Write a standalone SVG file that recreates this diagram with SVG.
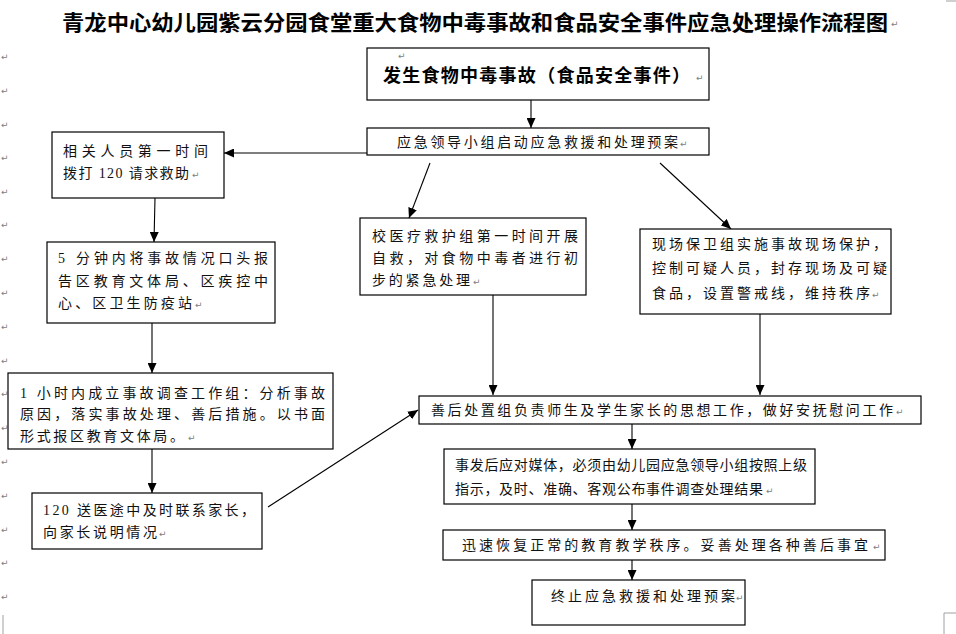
<svg xmlns="http://www.w3.org/2000/svg" width="956" height="634" viewBox="0 0 956 634">
<style>
.bx{fill:#fff;stroke:#000;stroke-width:1.2}
.t{font-family:"Liberation Serif","Noto Sans CJK SC",serif;font-size:14px;fill:#111}
.ttl{font-family:"Noto Sans CJK SC",sans-serif;font-size:21px;font-weight:bold;fill:#000}
.big{font-family:"Liberation Serif","Noto Sans CJK SC",serif;font-size:18px;font-weight:bold;fill:#000}
.pm{font-family:"DejaVu Sans",sans-serif;font-size:9px;fill:#808080}
.cn{stroke:#000;stroke-width:1.1;fill:none;marker-end:url(#ah)}
.cm{stroke:#a0a0a0;stroke-width:1;fill:none}
</style>
<defs>
<marker id="ah" markerWidth="10" markerHeight="9" refX="10" refY="4.5" orient="auto" markerUnits="userSpaceOnUse">
<path d="M0,0 L10,4.5 L0,9 Z" fill="#000"/>
</marker>
</defs>
<rect width="956" height="634" fill="#fff"/>
<g id="marks">
<path class="cm" d="M946,1 H956 M944,613 H956 M944,613 V634 M3,615 V634"/>
<text class="pm" x="1" y="60">↵</text><text class="pm" x="1" y="94">↵</text><text class="pm" x="1" y="128">↵</text>
<text class="pm" x="1" y="161">↵</text><text class="pm" x="1" y="195">↵</text><text class="pm" x="1" y="228">↵</text>
<text class="pm" x="1" y="262">↵</text><text class="pm" x="1" y="296">↵</text><text class="pm" x="1" y="330">↵</text>
<text class="pm" x="1" y="364">↵</text><text class="pm" x="1" y="397">↵</text><text class="pm" x="1" y="431">↵</text>
<text class="pm" x="1" y="465">↵</text><text class="pm" x="1" y="499">↵</text><text class="pm" x="1" y="533">↵</text>
<text class="pm" x="1" y="566">↵</text><text class="pm" x="1" y="600">↵</text>
</g>
<g id="title">
<text class="ttl" x="62" y="30" textLength="826" lengthAdjust="spacingAndGlyphs">青龙中心幼儿园紫云分园食堂重大食物中毒事故和食品安全事件应急处理操作流程图</text>
<text class="pm" x="891" y="27">↵</text>
</g>
<g id="connectors">
<line class="cn" x1="531" y1="100" x2="531" y2="128"/>
<line class="cn" x1="367" y1="153" x2="224" y2="153"/>
<line class="cn" x1="430" y1="163" x2="409" y2="218"/>
<line class="cn" x1="660" y1="163" x2="731" y2="229"/>
<line class="cn" x1="155" y1="198" x2="154" y2="242"/>
<line class="cn" x1="152" y1="323" x2="152" y2="373"/>
<line class="cn" x1="152" y1="449" x2="152" y2="493"/>
<line class="cn" x1="268" y1="507" x2="418" y2="410"/>
<line class="cn" x1="493" y1="295" x2="493" y2="395"/>
<line class="cn" x1="760" y1="314" x2="760" y2="395"/>
<line class="cn" x1="632" y1="424" x2="632" y2="449"/>
<line class="cn" x1="632" y1="504" x2="632" y2="530"/>
<line class="cn" x1="632" y1="560" x2="632" y2="580"/>
</g>
<g id="nodeA">
<rect class="bx" x="367" y="48" width="342" height="52"/>
<text class="pm" x="398" y="59">↵</text>
<text class="big" x="383" y="82" textLength="307" lengthAdjust="spacing">发生食物中毒事故（食品安全事件）</text>
<text class="pm" x="696" y="81">↵</text>
</g>
<g id="nodeB">
<rect class="bx" x="367" y="128" width="342" height="27"/>
<text class="t" x="397" y="147" textLength="281" lengthAdjust="spacing">应急领导小组启动应急救援和处理预案</text>
<text class="pm" x="680" y="147">↵</text>
</g>
<g id="nodeC">
<rect class="bx" x="52" y="132" width="172" height="66"/>
<text class="t" x="63" y="156" textLength="145" lengthAdjust="spacing">相关人员第一时间</text>
<text class="t" x="63" y="178" textLength="126" lengthAdjust="spacing">拨打 120 请求救助</text>
<text class="pm" x="192" y="178">↵</text>
</g>
<g id="nodeD">
<rect class="bx" x="47" y="242" width="228" height="81"/>
<text class="t" x="58" y="263" textLength="210" lengthAdjust="spacing">5 分钟内将事故情况口头报</text>
<text class="t" x="58" y="286" textLength="210" lengthAdjust="spacing">告区教育文体局、区疾控中</text>
<text class="t" x="58" y="308" textLength="134" lengthAdjust="spacing">心、区卫生防疫站</text>
<text class="pm" x="195" y="308">↵</text>
</g>
<g id="nodeE">
<rect class="bx" x="8" y="373" width="325" height="76"/>
<text class="t" x="20" y="398" textLength="305" lengthAdjust="spacing">1 小时内成立事故调查工作组：分析事故</text>
<text class="t" x="20" y="419" textLength="305" lengthAdjust="spacing">原因，落实事故处理、善后措施。以书面</text>
<text class="t" x="20" y="441" textLength="164" lengthAdjust="spacing">形式报区教育文体局。</text>
<text class="pm" x="188" y="441">↵</text>
</g>
<g id="nodeF">
<rect class="bx" x="32" y="493" width="230" height="56"/>
<text class="t" x="43" y="515" textLength="212" lengthAdjust="spacing">120 送医途中及时联系家长，</text>
<text class="t" x="43" y="537" textLength="114" lengthAdjust="spacing">向家长说明情况</text>
<text class="pm" x="159" y="537">↵</text>
</g>
<g id="nodeG">
<rect class="bx" x="360" y="218" width="226" height="77"/>
<text class="t" x="372" y="241" textLength="206" lengthAdjust="spacing">校医疗救护组第一时间开展</text>
<text class="t" x="372" y="263" textLength="206" lengthAdjust="spacing">自救，对食物中毒者进行初</text>
<text class="t" x="372" y="285" textLength="98" lengthAdjust="spacing">步的紧急处理</text>
<text class="pm" x="473" y="285">↵</text>
</g>
<g id="nodeH">
<rect class="bx" x="640" y="229" width="251" height="85"/>
<text class="t" x="652" y="249" textLength="235" lengthAdjust="spacing">现场保卫组实施事故现场保护，</text>
<text class="t" x="652" y="273" textLength="235" lengthAdjust="spacing">控制可疑人员，封存现场及可疑</text>
<text class="t" x="652" y="298" textLength="218" lengthAdjust="spacing">食品，设置警戒线，维持秩序</text>
<text class="pm" x="872" y="298">↵</text>
</g>
<g id="nodeI">
<rect class="bx" x="419" y="396" width="502" height="28"/>
<text class="t" x="431" y="415" textLength="462" lengthAdjust="spacing">善后处置组负责师生及学生家长的思想工作，做好安抚慰问工作</text>
<text class="pm" x="896" y="415">↵</text>
</g>
<g id="nodeJ">
<rect class="bx" x="444" y="449" width="371" height="55"/>
<text class="t" x="455" y="470" textLength="352" lengthAdjust="spacing">事发后应对媒体，必须由幼儿园应急领导小组按照上级</text>
<text class="t" x="455" y="494" textLength="308" lengthAdjust="spacing">指示，及时、准确、客观公布事件调查处理结果</text>
<text class="pm" x="766" y="494">↵</text>
</g>
<g id="nodeK">
<rect class="bx" x="443" y="530" width="442" height="30"/>
<text class="t" x="462" y="550" textLength="406" lengthAdjust="spacing">迅速恢复正常的教育教学秩序。妥善处理各种善后事宜</text>
<text class="pm" x="873" y="550">↵</text>
</g>
<g id="nodeL">
<rect class="bx" x="532" y="580" width="213" height="45"/>
<text class="t" x="551" y="601" textLength="184" lengthAdjust="spacing">终止应急救援和处理预案</text>
<text class="pm" x="736" y="601">↵</text>
</g>
</svg>
